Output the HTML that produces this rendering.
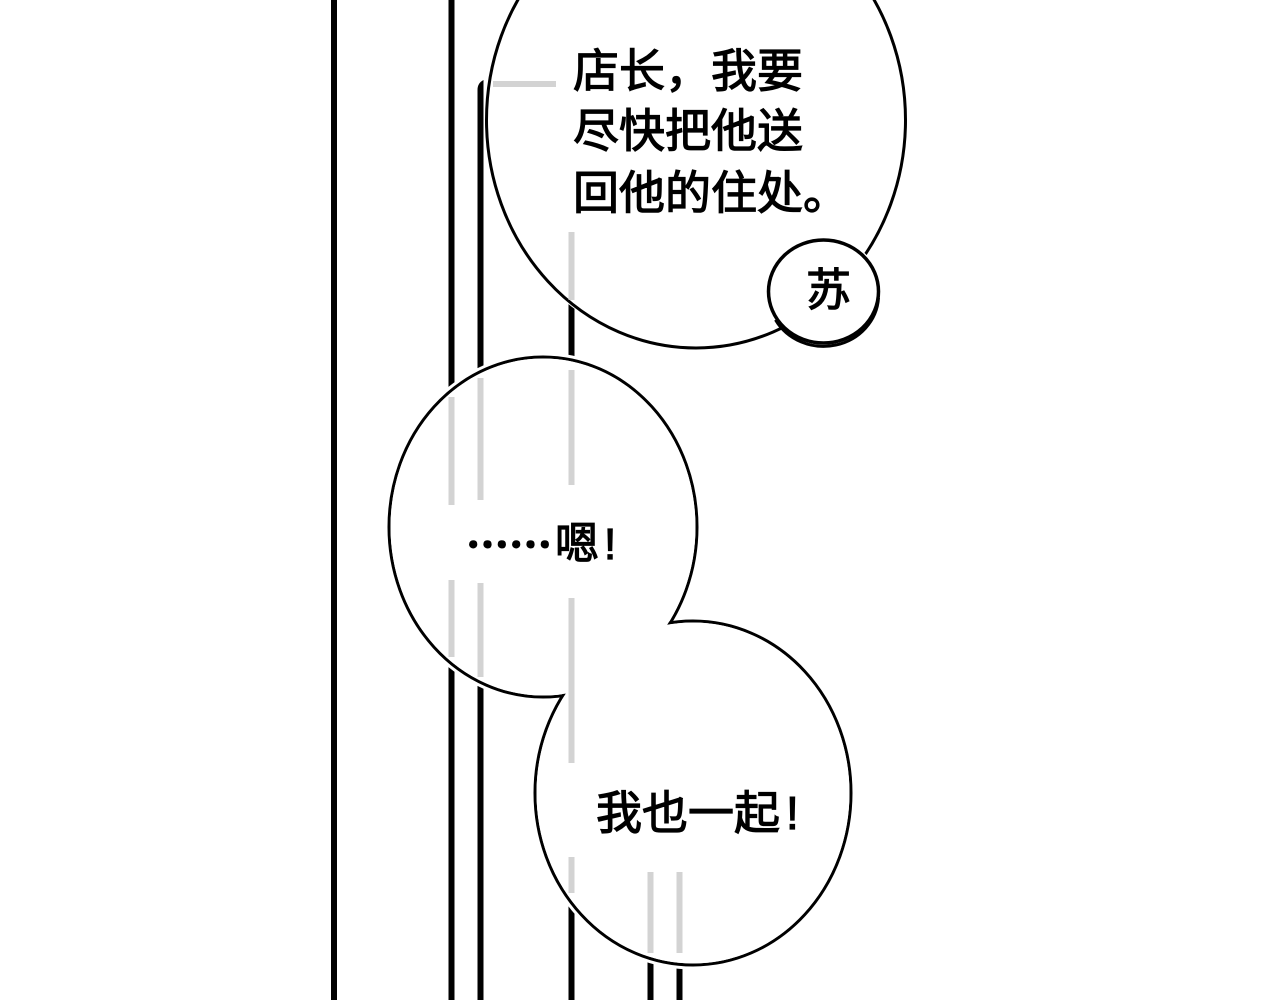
<!DOCTYPE html>
<html>
<head>
<meta charset="utf-8">
<style>
html,body{margin:0;padding:0;background:#fff;}
body{width:1280px;height:1000px;overflow:hidden;}
svg{display:block;}
.t{font-family:"Liberation Sans","WenQuanYi Zen Hei","Noto Sans CJK SC",sans-serif;fill:#000;stroke:#000;stroke-width:1.2px;}
.c{font-family:"WenQuanYi Zen Hei","Noto Sans CJK SC",sans-serif;fill:#000;stroke:#000;stroke-width:2.6px;}
</style>
</head>
<body>
<svg width="1280" height="1000" viewBox="0 0 1280 1000" xmlns="http://www.w3.org/2000/svg">
  <rect x="0" y="0" width="1280" height="1000" fill="#fff"/>
  <!-- black vertical lines -->
  <rect x="331" y="0" width="6" height="1000" fill="#000"/>
  <rect x="448.5" y="0" width="6" height="1000" fill="#000"/>
  <path d="M477.5 1000 L477.5 90 Q477.5 83 483.5 80 L483.5 1000 Z" fill="#000"/>
  <rect x="568.5" y="0" width="6" height="1000" fill="#000"/>
  <rect x="647.5" y="900" width="6" height="100" fill="#000"/>
  <rect x="676.5" y="900" width="6" height="100" fill="#000"/>

  <!-- top bubble -->
  <ellipse cx="696" cy="120" rx="209.5" ry="228" fill="#fff" stroke="#fff" stroke-width="5"/>
  <ellipse cx="696" cy="120" rx="209.5" ry="228" fill="#fff" stroke="#000" stroke-width="3"/>

  <!-- small name bubble -->
  <ellipse cx="823.5" cy="291.5" rx="55" ry="51.5" fill="#fff" stroke="#fff" stroke-width="6"/>
  <ellipse cx="823.5" cy="291.5" rx="55" ry="51.5" fill="#fff" stroke="#000" stroke-width="3.5"/>
  <path d="M878 296 A55 51.5 0 0 1 775 318" fill="none" stroke="#000" stroke-width="3" transform="translate(0.5,1.8)"/>

  <!-- middle + bottom bubbles (union) -->
  <ellipse cx="543" cy="527" rx="154" ry="170" fill="#fff" stroke="#fff" stroke-width="9"/>
  <ellipse cx="693" cy="793" rx="158" ry="172" fill="#fff" stroke="#fff" stroke-width="9"/>
  <ellipse cx="543" cy="527" rx="154" ry="170" fill="#fff" stroke="#000" stroke-width="3"/>
  <ellipse cx="693" cy="793" rx="158" ry="172" fill="#fff" stroke="#000" stroke-width="3"/>
  <ellipse cx="543" cy="527" rx="152.5" ry="168.5" fill="#fff"/>
  <ellipse cx="693" cy="793" rx="156.5" ry="170.5" fill="#fff"/>

  <!-- gray lines seen through bubbles -->
  <g fill="#d3d3d3">
    <rect x="493" y="81" width="63" height="6"/>
    <rect x="568.5" y="232" width="6" height="68"/>
    <rect x="448.5" y="397" width="6" height="108"/>
    <rect x="448.5" y="580" width="6" height="77"/>
    <rect x="477.5" y="378" width="6" height="122"/>
    <rect x="477.5" y="583" width="6" height="94"/>
    <rect x="568.5" y="370" width="6" height="115"/>
    <rect x="568.5" y="598" width="6" height="165"/>
    <rect x="568.5" y="857" width="6" height="36"/>
    <rect x="647.5" y="872" width="6" height="81"/>
    <rect x="676.5" y="872" width="6" height="81"/>
  </g>

  <!-- text -->
  <text class="t" x="573" y="71" font-size="46" dominant-baseline="central">店长，我要</text>
  <text class="t" x="573" y="131" font-size="46" dominant-baseline="central">尽快把他送</text>
  <text class="t" x="573" y="193" font-size="46" dominant-baseline="central">回他的住处。</text>
  <text class="t" x="806" y="290" font-size="45" dominant-baseline="central">苏</text>

  <text class="c" x="466" y="543" font-size="43" dominant-baseline="central" textLength="86" lengthAdjust="spacingAndGlyphs">……</text>
  <text class="t" x="555" y="544" font-size="44" dominant-baseline="central">嗯<tspan dx="5">!</tspan></text>

  <text class="t" x="596" y="813" font-size="46" dominant-baseline="central">我也一起<tspan dx="6">!</tspan></text>
</svg>
</body>
</html>
